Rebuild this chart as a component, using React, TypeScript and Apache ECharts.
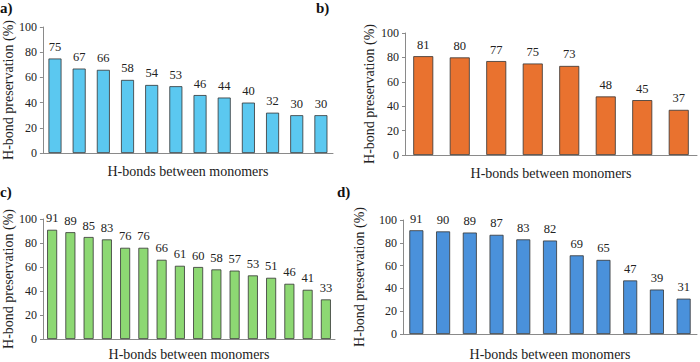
import React, { useEffect, useRef } from "react";
import * as echarts from "echarts";

const valuesA = [75, 67, 66, 58, 54, 53, 46, 44, 40, 32, 30, 30];
const valuesB = [81, 80, 77, 75, 73, 48, 45, 37];
const valuesC = [91, 89, 85, 83, 76, 76, 66, 61, 60, 58, 57, 53, 51, 46, 41, 33];
const valuesD = [91, 90, 89, 87, 83, 82, 69, 65, 47, 39, 31];
const panelLabels = ["a)", "b)", "c)", "d)"];
const yTitle = "H-bond preservation (%)";
const xTitle = "H-bonds between monomers";

const FONT = "Liberation Serif";

export default function App() {
  const ref = useRef<HTMLDivElement>(null);
  useEffect(() => {
    if (!ref.current) return;
    const chart = echarts.init(ref.current, undefined, { renderer: "svg" });
    const panels = [
      { data: valuesA, color: "#5BC8F0", grid: { left: 42, top: 27, width: 291, height: 126 }, barWidth: 13, yGap: 27, xGap: 11 },
      { data: valuesB, color: "#E9722F", grid: { left: 405, top: 33, width: 292, height: 122 }, barWidth: 20, yGap: 29, xGap: 11 },
      { data: valuesC, color: "#8DD873", grid: { left: 43, top: 219, width: 292, height: 124 }, barWidth: 10, yGap: 28, xGap: 8 },
      { data: valuesD, color: "#4A91DB", grid: { left: 403, top: 220, width: 294, height: 122 }, barWidth: 14, yGap: 37, xGap: 13 },
    ];
    const option: any = {
      animation: false,
      backgroundColor: "#ffffff",
      textStyle: { fontFamily: FONT },
      grid: panels.map((p) => ({ ...p.grid })),
      xAxis: panels.map((p, i) => ({
        type: "category",
        gridIndex: i,
        data: p.data.map((_, j) => String(j + 1)),
        axisLine: { show: true, lineStyle: { color: "#8a8a8a", width: 1 } },
        axisTick: { show: false },
        axisLabel: { show: false },
        name: xTitle,
        nameLocation: "middle",
        nameGap: p.xGap,
        nameTextStyle: { fontFamily: FONT, fontSize: 14, color: "#222", verticalAlign: "top" },
      })),
      yAxis: panels.map((p, i) => ({
        type: "value",
        gridIndex: i,
        min: 0,
        max: 100,
        interval: 20,
        axisLine: { show: true, lineStyle: { color: "#8a8a8a", width: 1 } },
        axisTick: { show: true, inside: false, length: 3, lineStyle: { color: "#8a8a8a" } },
        splitLine: { show: false },
        axisLabel: { fontFamily: FONT, fontSize: 12, color: "#222", margin: 6 },
        name: yTitle,
        nameLocation: "middle",
        nameGap: p.yGap,
        nameTextStyle: { fontFamily: FONT, fontSize: 14, color: "#222" },
      })),
      series: panels.map((p, i) => ({
        type: "bar",
        xAxisIndex: i,
        yAxisIndex: i,
        data: p.data,
        barWidth: p.barWidth,
        itemStyle: { color: p.color, borderColor: "#333", borderWidth: 0.8 },
        label: { show: true, position: "top", distance: 5, fontFamily: FONT, fontSize: 12.5, color: "#222" },
      })),
      graphic: [
        { type: "text", left: 0, top: 0, style: { text: panelLabels[0], font: `bold 15px ${FONT}`, fill: "#111" } },
        { type: "text", left: 316, top: 0, style: { text: panelLabels[1], font: `bold 15px ${FONT}`, fill: "#111" } },
        { type: "text", left: 0, top: 184, style: { text: panelLabels[2], font: `bold 15px ${FONT}`, fill: "#111" } },
        { type: "text", left: 337, top: 184, style: { text: panelLabels[3], font: `bold 15px ${FONT}`, fill: "#111" } },
      ],
    };
    chart.setOption(option);
    return () => chart.dispose();
  }, []);
  return (
    <div
      ref={ref}
      style={{ position: "fixed", left: 0, top: 0, width: 700, height: 362, background: "#fff" }}
    />
  );
}
